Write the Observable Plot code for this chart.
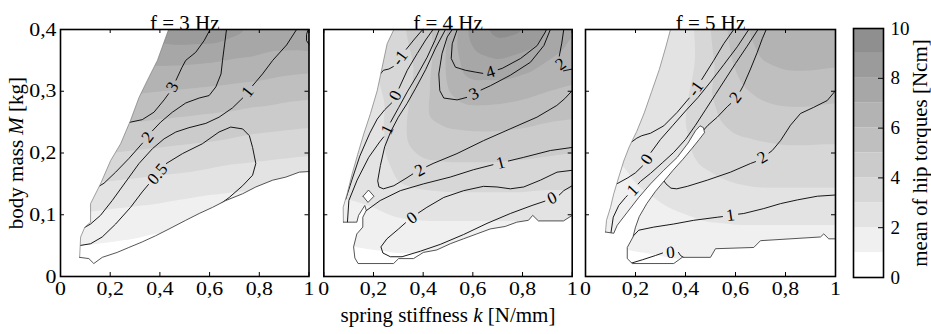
<!DOCTYPE html>
<html><head><meta charset="utf-8">
<script src="https://cdn.jsdelivr.net/npm/d3@7"></script>
<script src="https://cdn.jsdelivr.net/npm/@observablehq/plot@0.6"></script>
<style>
body{margin:0;background:#fff;}
#fig{position:relative;width:931px;height:334px;font-family:"Liberation Serif",serif;}
#fig svg{position:absolute;top:0;overflow:visible;}
</style></head><body><div id="fig"></div>
<script>
// ---------- data ----------
const titles = ["f = 3 Hz", "f = 4 Hz", "f = 5 Hz"];
const xTicks = [0, 0.2, 0.4, 0.6, 0.8, 1];
const xTickLabels = ["0", "0,2", "0,4", "0,6", "0,8", "1"];
const yTicks = [0, 0.1, 0.2, 0.3, 0.4];
const yTickLabels = ["0", "0,1", "0,2", "0,3", "0,4"];
const cbTicks = [0, 2, 4, 6, 8, 10];
const cbTickLabels = ["0", "2", "4", "6", "8", "10"];
const levels = [0, 1, 2, 3, 4, 5, 6, 7, 8, 9];
const grays = ["#ffffff","#f0f0f0","#e3e3e3","#d7d7d7","#cbcbcb","#bfbfbf","#b3b3b3","#a7a7a7","#9b9b9b","#8f8f8f"];

// fill field (mean of hip torques, Ncm) sampled at k (columns) x M (rows)
const kVals = [0, 0.1, 0.2, 0.3, 0.4, 0.5, 0.6, 0.7, 0.8, 0.9, 1];
const mVals = [0.4, 0.35, 0.3, 0.25, 0.2, 0.15, 0.1, 0.05, 0];
const fill3 = [
 [8.7,8.6,8.5,8.4,8.6,8.8,8.8,8.3,7.8,7.9,8.3],
 [7.6,7.4,7.3,7.2,7.2,7.2,7.1,6.9,6.8,6.6,6.5],
 [6.4,6.3,6.2,6.1,6.0,5.9,5.8,5.7,5.6,5.4,5.3],
 [5.3,5.2,5.1,5.0,4.9,4.8,4.7,4.6,4.4,4.3,4.2],
 [4.2,4.1,4.0,3.9,3.8,3.7,3.6,3.4,3.3,3.2,3.1],
 [3.1,3.0,2.9,2.8,2.7,2.6,2.4,2.3,2.2,2.1,2.0],
 [2.0,1.9,1.8,1.7,1.6,1.4,1.3,1.2,1.1,1.0,0.9],
 [1.1,1.0,0.9,0.8,0.6,0.4,0.3,0.2,0.1,0.0,-0.1],
 [-0.2,-0.2,-0.2,-0.2,-0.2,-0.2,-0.2,-0.2,-0.2,-0.2,-0.2]];
const fill4 = [
 [3.0,3.0,3.0,3.8,4.5,6.0,8.5,9.5,9.2,8.0,7.0],
 [3.0,3.0,3.0,3.6,4.3,6.2,7.8,8.0,7.6,7.0,6.5],
 [2.8,2.8,2.8,3.4,4.6,6.0,6.6,6.5,6.3,6.0,5.8],
 [2.6,2.6,2.6,3.6,4.8,5.2,5.3,5.3,5.2,5.0,4.9],
 [2.4,2.4,2.5,3.6,4.2,4.3,4.3,4.3,4.2,4.1,4.0],
 [2.2,2.2,2.3,3.0,3.2,3.3,3.3,3.3,3.3,3.2,3.2],
 [1.8,1.8,1.9,2.1,2.2,2.2,2.2,2.2,2.2,2.2,2.2],
 [1.0,1.0,1.1,1.2,1.2,1.2,1.2,1.2,1.2,1.2,1.2],
 [0.4,0.4,0.4,0.4,0.4,0.4,0.4,0.4,0.4,0.4,0.4]];
const fill5 = [
 [2.0,2.0,2.0,2.0,2.5,4.0,5.5,6.5,7.0,7.0,7.0],
 [2.0,2.0,2.0,2.0,2.5,3.8,5.2,6.0,6.3,6.3,6.2],
 [2.0,2.0,2.0,2.2,2.8,4.0,4.8,5.2,5.4,5.4,5.3],
 [2.0,2.0,2.0,2.3,3.0,3.8,4.3,4.5,4.6,4.6,4.5],
 [2.0,2.0,2.1,2.4,2.9,3.3,3.6,3.7,3.8,3.8,3.8],
 [1.8,1.8,2.0,2.3,2.6,2.8,3.0,3.1,3.1,3.1,3.1],
 [1.5,1.5,1.6,1.8,2.0,2.2,2.3,2.3,2.3,2.3,2.3],
 [1.0,1.0,1.1,1.2,1.3,1.4,1.4,1.4,1.4,1.4,1.4],
 [0.6,0.6,0.6,0.6,0.6,0.6,0.6,0.6,0.6,0.6,0.6]];

// contour lines (k, M), split where the labels sit
const lines3 = [
 [[0.27,0.249],[0.329,0.254],[0.376,0.266],[0.417,0.286],[0.435,0.296]],
 [[0.465,0.318],[0.488,0.338],[0.504,0.35],[0.544,0.363],[0.578,0.382],[0.602,0.4]],
 [[0.15,0.145],[0.175,0.151],[0.222,0.169],[0.275,0.191],[0.33,0.216]],
 [[0.37,0.236],[0.403,0.25],[0.45,0.266],[0.504,0.281],[0.558,0.289],[0.598,0.293],[0.625,0.307],[0.646,0.328],[0.652,0.35],[0.66,0.375],[0.668,0.4]],
 [[0.095,0.079],[0.121,0.085],[0.161,0.099],[0.208,0.123],[0.262,0.153],[0.316,0.183],[0.37,0.207],[0.417,0.223],[0.464,0.234],[0.517,0.241],[0.585,0.248],[0.638,0.258],[0.692,0.273],[0.733,0.289]],
 [[0.773,0.309],[0.813,0.328],[0.854,0.35],[0.91,0.375],[0.95,0.4]],
 [[0.075,0.05],[0.121,0.053],[0.168,0.064],[0.222,0.085],[0.282,0.112],[0.329,0.137],[0.354,0.149]],
 [[0.426,0.183],[0.491,0.199],[0.571,0.215],[0.638,0.234],[0.685,0.242],[0.733,0.239],[0.76,0.228],[0.773,0.209],[0.786,0.183],[0.773,0.164],[0.733,0.147],[0.679,0.128],[0.625,0.112],[0.571,0.099],[0.524,0.088]],
 [[0.997,0.4],[0.99,0.392],[0.99,0.382],[1.0,0.376]]];
const labels3 = [
 {t:"3", k:0.45, m:0.307, a:-61},
 {t:"2", k:0.35, m:0.226, a:-52},
 {t:"1", k:0.753, m:0.299, a:-52},
 {t:"0.5", k:0.39, m:0.166, a:-50}];
// edges of the computed region: upper-left edge, then lower edge
const upper3 = [[0.435,0.4],[0.39,0.35],[0.35,0.318],[0.316,0.29],[0.282,0.253],[0.242,0.215],[0.202,0.188],[0.161,0.15],[0.121,0.118],[0.121,0.088],[0.098,0.08],[0.081,0.064],[0.077,0.031]];
const lower3 = [[0.077,0.031],[0.114,0.029],[0.134,0.021],[0.168,0.031],[0.228,0.039],[0.275,0.047],[0.329,0.056],[0.383,0.066],[0.437,0.077],[0.504,0.091],[0.558,0.102],[0.612,0.112],[0.665,0.123],[0.733,0.134],[0.786,0.145],[0.854,0.156],[0.907,0.161],[0.961,0.169],[1,0.17]];

const lines4 = [
 [[0.228,0.328],[0.24,0.334],[0.262,0.336],[0.28,0.34]],
 [[0.332,0.368],[0.362,0.383],[0.396,0.399],[0.4,0.4]],
 [[0.088,0.125],[0.112,0.155],[0.145,0.195],[0.185,0.232],[0.215,0.255],[0.245,0.27],[0.273,0.281]],
 [[0.303,0.305],[0.336,0.334],[0.376,0.361],[0.41,0.383],[0.44,0.4]],
 [[0.095,0.087],[0.101,0.123],[0.134,0.156],[0.181,0.193],[0.225,0.218],[0.241,0.226]],
 [[0.269,0.25],[0.302,0.274],[0.336,0.299],[0.376,0.326],[0.416,0.355],[0.447,0.382],[0.465,0.4]],
 [[0.49,0.4],[0.45,0.37],[0.41,0.335],[0.37,0.305],[0.335,0.28],[0.3,0.258],[0.27,0.235],[0.245,0.21],[0.228,0.18],[0.217,0.155],[0.222,0.145],[0.24,0.142],[0.282,0.147],[0.335,0.16],[0.358,0.166]],
 [[0.414,0.178],[0.44,0.183],[0.536,0.199],[0.643,0.22],[0.75,0.239],[0.858,0.258],[0.938,0.277],[0.97,0.288],[1.0,0.301]],
 [[0.517,0.4],[0.497,0.388],[0.476,0.361],[0.463,0.328],[0.467,0.301],[0.483,0.289],[0.537,0.286],[0.575,0.29]],
 [[0.633,0.302],[0.671,0.309],[0.751,0.326],[0.832,0.347],[0.886,0.374],[0.912,0.4]],
 [[0.537,0.4],[0.517,0.377],[0.513,0.353],[0.53,0.339],[0.57,0.334],[0.61,0.331],[0.64,0.329]],
 [[0.702,0.335],[0.718,0.337],[0.792,0.353],[0.859,0.374],[0.892,0.396],[0.896,0.4]],
 [[0.966,0.4],[0.958,0.378],[0.948,0.357]],
 [[0.965,0.333],[1.0,0.336]],
 [[0.155,0.102],[0.227,0.123],[0.308,0.139],[0.401,0.15],[0.509,0.161],[0.603,0.173],[0.681,0.181]],
 [[0.743,0.187],[0.805,0.193],[0.912,0.204],[1.0,0.209]],
 [[1.0,0.172],[0.939,0.169],[0.872,0.156],[0.805,0.145],[0.751,0.142],[0.697,0.145],[0.643,0.146],[0.563,0.139],[0.483,0.128],[0.415,0.112],[0.381,0.103]],
 [[0.329,0.087],[0.301,0.077],[0.254,0.061],[0.23,0.048],[0.238,0.038],[0.268,0.032],[0.315,0.032],[0.389,0.041],[0.469,0.052],[0.563,0.068],[0.657,0.086],[0.751,0.102],[0.838,0.115],[0.89,0.122]],
 [[0.948,0.132],[0.966,0.139],[1.0,0.147]]];
const labels4 = [
 {t:"-1", k:0.306, m:0.354, a:-54},
 {t:"0", k:0.288, m:0.293, a:-63},
 {t:"1", k:0.255, m:0.238, a:-64},
 {t:"2", k:0.386, m:0.172, a:-28},
 {t:"3", k:0.604, m:0.296, a:-26},
 {t:"4", k:0.671, m:0.331, a:-18},
 {t:"2", k:0.953, m:0.344, a:-35},
 {t:"1", k:0.712, m:0.184, a:-15},
 {t:"0", k:0.355, m:0.095, a:-37},
 {t:"0", k:0.919, m:0.127, a:-25}];
const upper4 = [[0.282,0.4],[0.255,0.377],[0.235,0.339],[0.215,0.301],[0.188,0.264],[0.161,0.231],[0.141,0.204],[0.114,0.166],[0.094,0.134],[0.078,0.112],[0.079,0.088]];
const lower4 = [[0.079,0.088],[0.133,0.088],[0.14,0.099],[0.165,0.115],[0.171,0.107],[0.157,0.096],[0.157,0.08],[0.133,0.069],[0.12,0.048],[0.125,0.03],[0.138,0.021],[0.281,0.021],[0.301,0.029],[0.361,0.029],[0.401,0.039],[0.455,0.043],[0.509,0.053],[0.562,0.061],[0.616,0.069],[0.67,0.077],[0.73,0.081],[0.777,0.088],[0.824,0.091],[0.841,0.099],[0.864,0.09],[0.965,0.09],[1,0.099]];
const holes4 = [[[0.158,0.13],[0.18,0.14],[0.202,0.13],[0.178,0.12],[0.158,0.13]]];

const lines5 = [
 [[0.185,0.218],[0.205,0.224],[0.225,0.228],[0.26,0.232],[0.313,0.244],[0.367,0.266],[0.415,0.289]],
 [[0.465,0.319],[0.513,0.35],[0.553,0.377],[0.593,0.4]],
 [[0.125,0.15],[0.17,0.16],[0.2,0.168],[0.228,0.179]],
 [[0.262,0.201],[0.3,0.222],[0.35,0.245],[0.4,0.268],[0.45,0.29],[0.5,0.315],[0.553,0.343],[0.607,0.372],[0.653,0.4]],
 [[0.1,0.066],[0.111,0.096],[0.133,0.115],[0.16,0.128],[0.167,0.131]],
 [[0.211,0.15],[0.22,0.154],[0.26,0.167],[0.307,0.184],[0.353,0.201],[0.4,0.222],[0.44,0.245],[0.48,0.27],[0.52,0.295],[0.56,0.32],[0.6,0.345],[0.645,0.372],[0.69,0.4]],
 [[0.47,0.236],[0.49,0.245],[0.527,0.258],[0.567,0.275],[0.581,0.28]],
 [[0.619,0.3],[0.631,0.309],[0.66,0.336],[0.687,0.363],[0.707,0.385],[0.723,0.4]],
 [[0.305,0.16],[0.322,0.15],[0.342,0.143],[0.365,0.142],[0.407,0.146],[0.487,0.156],[0.58,0.169],[0.66,0.183],[0.68,0.186]],
 [[0.734,0.2],[0.747,0.204],[0.78,0.22],[0.82,0.245],[0.86,0.264],[0.913,0.274],[0.967,0.285],[1.0,0.301]],
 [[0.185,0.063],[0.213,0.075],[0.273,0.08],[0.353,0.085],[0.433,0.091],[0.527,0.096],[0.548,0.097]],
 [[0.612,0.101],[0.633,0.102],[0.713,0.11],[0.78,0.118],[0.847,0.124],[0.927,0.13],[1.0,0.132]],
 [[0.17,0.02],[0.227,0.027],[0.28,0.034],[0.308,0.038]],
 [[0.372,0.039],[0.38,0.034],[0.4,0.029]]];
const labels5 = [
 {t:"-1", k:0.44, m:0.304, a:-55},
 {t:"0", k:0.245, m:0.19, a:-57},
 {t:"1", k:0.189, m:0.14, a:-47},
 {t:"2", k:0.6, m:0.29, a:-53},
 {t:"2", k:0.707, m:0.193, a:-31},
 {t:"1", k:0.58, m:0.099, a:-8},
 {t:"0", k:0.34, m:0.039, a:-5}];
const upper5 = [[0.34,0.4],[0.32,0.37],[0.295,0.335],[0.265,0.3],[0.235,0.265],[0.205,0.235],[0.175,0.21],[0.153,0.187],[0.133,0.161],[0.113,0.134],[0.1,0.112],[0.084,0.091],[0.08,0.072]];
const lower5 = [[0.08,0.072],[0.113,0.07],[0.127,0.083],[0.167,0.104],[0.213,0.128],[0.26,0.15],[0.313,0.172],[0.367,0.193],[0.41,0.216],[0.44,0.236],[0.458,0.244],[0.472,0.241],[0.476,0.233],[0.455,0.222],[0.425,0.207],[0.39,0.19],[0.35,0.172],[0.315,0.155],[0.28,0.138],[0.245,0.118],[0.215,0.097],[0.2,0.08],[0.19,0.064],[0.167,0.047],[0.167,0.029],[0.187,0.021],[0.353,0.021],[0.387,0.031],[0.5,0.031],[0.52,0.045],[0.673,0.047],[0.7,0.058],[0.94,0.064],[0.953,0.069],[0.973,0.061],[1,0.061]];

// ---------- drawing ----------
const FONT = '"Liberation Serif","Times New Roman",serif';
const H = 334, MT = 29, MB = 58;
const colorScale = {type: "threshold", domain: levels.slice(1), range: grays};

function italicize(svg, full, word) {
  d3.select(svg).selectAll("text").each(function() {
    if (this.textContent === full) {
      const parts = full.split(" " + word + " ");
      const t = d3.select(this);
      t.text(null);
      t.append("tspan").text(parts[0] + " ");
      t.append("tspan").attr("font-style", "italic").text(word);
      t.append("tspan").text(" " + parts[1]);
    }
  });
}

function stretchTicks(svg, factor) {
  d3.select(svg).selectAll('g[aria-label$="tick label"] text').each(function() {
    const len = this.getComputedTextLength();
    if (len > 0) {
      this.setAttribute("textLength", (len * factor).toFixed(2));
      this.setAttribute("lengthAdjust", "spacingAndGlyphs");
    }
  });
}

function panel(cfg) {
  const fw = cfg.width - cfg.ml - cfg.mr, fh = H - MT - MB;
  const grid = [];
  mVals.forEach((m, i) => kVals.forEach((k, j) => grid.push({k, m, v: cfg.fill[i][j]})));
  const segRows = cfg.lines.flatMap((seg, i) => seg.map(([k, m]) => ({k, m, z: i})));
  const toRows = a => a.map(([k, m]) => ({k, m}));
  // masked (not computed) area: frame corners plus the region edges
  const maskRows = toRows([[0, 0.4], ...cfg.upper, ...cfg.lower, [1, 0], [0, 0]]);
  const holeRows = (cfg.holes || []).flatMap((h, i) => h.map(([k, m]) => ({k, m, z: i})));
  const marks = [
    Plot.contour(grid, {x: "k", y: "m", fill: "v", thresholds: levels, interpolate: "barycentric", blur: 2, stroke: "none"}),
    Plot.line(segRows, {x: "k", y: "m", z: "z", stroke: "#000", strokeWidth: 0.9}),
    Plot.line(maskRows, {x: "k", y: "m", fill: "#fff", stroke: "none", curve: "linear-closed"}),
    Plot.line(toRows(cfg.upper), {x: "k", y: "m", stroke: "#7a7a7a", strokeWidth: 0.7}),
    Plot.line(toRows(cfg.lower), {x: "k", y: "m", stroke: "#2a2a2a", strokeWidth: 0.8})
  ];
  if (holeRows.length) marks.push(Plot.line(holeRows, {x: "k", y: "m", z: "z", fill: "#fff", stroke: "#2a2a2a", strokeWidth: 0.8}));
  marks.push(
    Plot.text(cfg.labels, {x: "k", y: "m", text: "t", rotate: "a", fontSize: 17, fill: "#000"}),
    Plot.ruleX(xTicks, {x: d => d, insetTop: fh - 4, stroke: "#000"}),
    Plot.ruleX(xTicks, {x: d => d, insetBottom: fh - 4, stroke: "#000"}),
    Plot.ruleY(yTicks, {y: d => d, insetRight: fw - 4, stroke: "#000"}),
    Plot.ruleY(yTicks, {y: d => d, insetLeft: fw - 4, stroke: "#000"}),
    Plot.frame({stroke: "#000", strokeWidth: 1.6}),
    Plot.axisX({ticks: xTicks, tickFormat: d => xTickLabels[xTicks.indexOf(d)], tickSize: 0, tickPadding: 5, label: null, fontSize: 19}),
    Plot.text([cfg.title], {text: d => d, frameAnchor: "top", textAnchor: "middle", dy: -14, fontSize: 21})
  );
  if (cfg.showY) {
    marks.push(
      Plot.axisY({ticks: yTicks, tickFormat: d => yTickLabels[yTicks.indexOf(d)], tickSize: 0, tickPadding: 4, label: null, fontSize: 19}),
      Plot.text(["body mass M [kg]"], {text: d => d, frameAnchor: "left", textAnchor: "middle", rotate: -90, dx: -44, fontSize: 21})
    );
  }
  if (cfg.xLabel) {
    marks.push(Plot.text(["spring stiffness k [N/mm]"], {text: d => d, frameAnchor: "bottom", textAnchor: "middle", dy: 45, fontSize: 21}));
  }
  const svg = Plot.plot({
    width: cfg.width, height: H, marginTop: MT, marginBottom: MB, marginLeft: cfg.ml, marginRight: cfg.mr,
    x: {domain: [0, 1]},
    y: cfg.showY ? {domain: [0, 0.4]} : {domain: [0, 0.4], axis: null},
    color: colorScale,
    style: {fontFamily: FONT, fontSize: "19px", background: "transparent", overflow: "visible", color: "#000"},
    marks
  });
  svg.style.left = cfg.left + "px";
  italicize(svg, "body mass M [kg]", "M");
  italicize(svg, "spring stiffness k [N/mm]", "k");
  return svg;
}

const fig = document.getElementById("fig");
const panels = [
  panel({fill: fill3, lines: lines3, labels: labels3, upper: upper3, lower: lower3, title: titles[0], width: 316, ml: 60, mr: 7.5, left: 0, showY: true}),
  panel({fill: fill4, lines: lines4, labels: labels4, upper: upper4, lower: lower4, holes: holes4, title: titles[1], width: 262, ml: 7.3, mr: 6.3, left: 316, xLabel: true}),
  panel({fill: fill5, lines: lines5, labels: labels5, upper: upper5, lower: lower5, title: titles[2], width: 262, ml: 7, mr: 5, left: 578})
];
panels.forEach(p => { fig.append(p); stretchTicks(p, 1.15); });

const cb = Plot.plot({
  width: 91, height: H, marginTop: 28, marginBottom: 57, marginLeft: 13, marginRight: 48,
  x: {domain: [0, 1], axis: null},
  y: {domain: [0, 10]},
  color: colorScale,
  style: {fontFamily: FONT, fontSize: "19px", background: "transparent", overflow: "visible", color: "#000"},
  marks: [
    Plot.rect(levels, {x1: () => 0, x2: () => 1, y1: d => d, y2: d => d + 1, fill: d => d}),
    Plot.ruleY([2, 4, 6, 8], {y: d => d, insetLeft: 30 - 5, stroke: "#000"}),
    Plot.frame({stroke: "#000", strokeWidth: 1.6}),
    Plot.axisY({anchor: "right", ticks: cbTicks, tickFormat: d => cbTickLabels[cbTicks.indexOf(d)], tickSize: 0, tickPadding: 7, label: null, fontSize: 19}),
    Plot.text(["mean of hip torques [Ncm]"], {text: d => d, frameAnchor: "right", textAnchor: "middle", rotate: -90, dx: 37, fontSize: 21})
  ]
});
cb.style.left = "840px";
fig.append(cb);
</script>
</body></html>
